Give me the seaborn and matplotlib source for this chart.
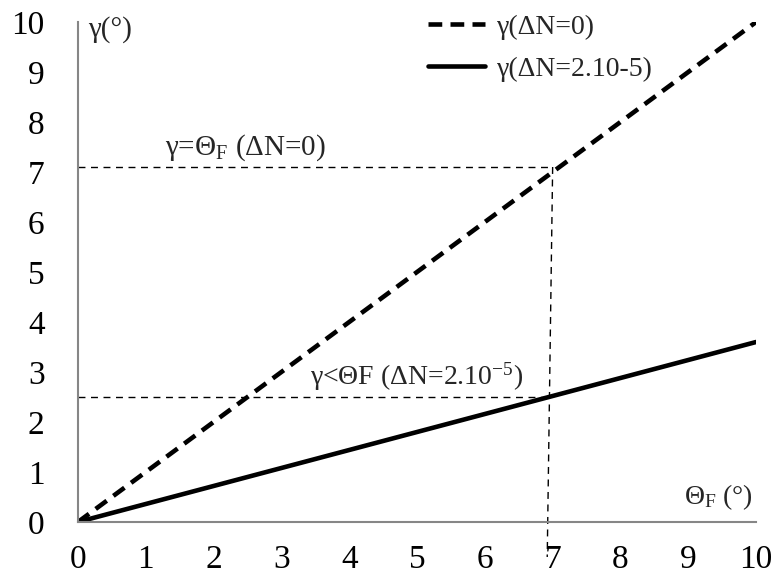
"""Recreate gamma vs Theta_F chart."""
import pandas as pd
import matplotlib
matplotlib.use("Agg")
import matplotlib.pyplot as plt
import seaborn as sns

theta_f = [0, 10]
gamma_dn0 = [0, 10]
gamma_dn2 = [0, 3.6]
series_names = ["γ(ΔN=0)", "γ(ΔN=2.10-5)"]

x_ticks = list(range(0, 11))
y_ticks = list(range(0, 11))

# guide lines
theta_cross = 7.0
gamma_cross_0 = 7.1
gamma_cross_2 = 2.5

sns.set_theme(style="white")
plt.rcParams["font.family"] = ["Liberation Serif", "DejaVu Serif"]
plt.rcParams["mathtext.fontset"] = "custom"
plt.rcParams["mathtext.rm"] = "Liberation Serif"
plt.rcParams["mathtext.it"] = "Liberation Serif"

df = pd.DataFrame({
    "theta": theta_f + theta_f,
    "gamma": gamma_dn0 + gamma_dn2,
    "series": [series_names[0]] * 2 + [series_names[1]] * 2,
})

fig = plt.figure(figsize=(7.75, 5.78), dpi=100)
ax = fig.add_axes([0.1006, 0.0969, 0.875, 0.865])

sns.lineplot(data=df, x="theta", y="gamma", style="series",
             dashes={series_names[0]: (3, 1.8), series_names[1]: ""},
             color="black", linewidth=3.3, ax=ax, legend=True)

# dashed guide lines
guide = dict(color="black", linewidth=1.0, linestyle=(0, (5, 4)))
ax.plot([0, theta_cross], [gamma_cross_0, gamma_cross_0], **guide)
ax.plot([0, theta_cross], [gamma_cross_2, gamma_cross_2], **guide)
ax.plot([theta_cross, 6.92], [gamma_cross_0, -0.7], clip_on=False, **guide)

ax.set_xlim(0, 10)
ax.set_ylim(0, 10)
ax.set_xticks(x_ticks)
ax.set_yticks(y_ticks)
ax.set_xlabel("")
ax.set_ylabel("")

for side in ["top", "right"]:
    ax.spines[side].set_visible(False)
for side in ["left", "bottom"]:
    ax.spines[side].set_color("#868686")
    ax.spines[side].set_linewidth(1.5)
ax.tick_params(axis="both", direction="out", length=8, width=1.5,
               color="#868686", labelsize=24, labelcolor="black")
ax.tick_params(axis="y", pad=16)
ax.tick_params(axis="x", pad=8)

ax.text(0.15, 9.85, "γ(°)", fontsize=21, va="center", ha="left")
ax.text(9.95, 0.5, r"Θ$_\mathregular{F}$ (°)", fontsize=20, va="center", ha="right")
ax.text(1.28, 7.48, r"γ=Θ$_\mathregular{F}$ (ΔN=0)", fontsize=21, va="center")
ax.text(3.42, 2.9, r"γ<ΘF (ΔN=2.10$^\mathregular{-5}$)", fontsize=20, va="center")

leg = ax.legend(loc="upper left", bbox_to_anchor=(0.5, 1.038), frameon=False,
                borderaxespad=0, fontsize=20, handlelength=2.05,
                handletextpad=0.43, labelspacing=0.6, title=None)

fig.savefig("out.png", dpi=100)
